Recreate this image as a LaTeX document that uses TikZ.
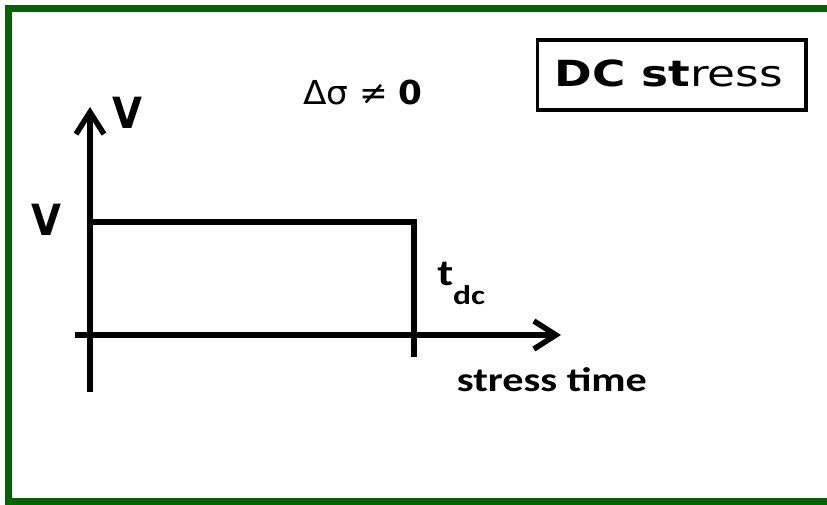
\documentclass[tikz,border=0pt]{standalone}
\usepackage{fontspec}
\usetikzlibrary{arrows.meta}
\newfontfamily\dvs{DejaVu Sans}
\newfontfamily\carl{Carlito}
\definecolor{framegreen}{HTML}{006400}
\begin{document}
\begin{tikzpicture}[x=1pt,y=-1pt,
  axis/.style={line width=5.5pt,-{Straight Barb[length=22pt,width=28pt,line width=5.5pt]}},
  plain/.style={line width=5.5pt},
  vlab/.style={font=\dvs\bfseries\fontsize{43}{43}\selectfont,inner sep=0pt,anchor=base,xscale=0.9},
  carlab/.style={font=\carl\bfseries\fontsize{34}{34}\selectfont,inner sep=0pt,xscale=1.24}]
\useasboundingbox (0,0) rectangle (827,505);
% green frame
\draw[framegreen,line width=7pt] (840,8.5) -- (8.5,8.5) -- (8.5,501.5) -- (840,501.5);
% title box
\coordinate (b1) at (537.5,40);
\coordinate (b2) at (806,110);
\draw[line width=3.5pt] (b1) rectangle (b2);
\node[font=\dvs\fontsize{36}{36}\selectfont,inner sep=0pt,anchor=base,xscale=1.26] (title) at (669,87) {\bfseries DC st\mdseries ress};
% axes
\coordinate (ybot) at (90,392);
\coordinate (ytop) at (90,107);
\coordinate (xl) at (75,335);
\coordinate (xr) at (561,335);
\draw[axis] (ybot) -- (ytop);
\draw[axis] (xl) -- (xr);
% pulse
\coordinate (p1) at (90,222);
\coordinate (p2) at (414,222);
\coordinate (p3) at (414,357);
\draw[plain,line join=miter] (p1) -- (p2) -- (p3);
% labels
\node[vlab] (vtop) at (127.5,129) {V};
\node[vlab] (vleft) at (46,236) {V};
\node[font=\dvs\fontsize{33}{33}\selectfont,inner sep=0pt,anchor=base,xscale=1.04] (ds) at (363,105) {Δσ ≠ \bfseries 0};
\node[carlab,anchor=base west,font=\carl\bfseries\fontsize{37}{37}\selectfont] (tdc) at (437,285) {t\raisebox{-19pt}{\fontsize{27}{27}\selectfont dc}};
\node[carlab,anchor=base] (st) at (552,391) {stress time};
\end{tikzpicture}
\end{document}
